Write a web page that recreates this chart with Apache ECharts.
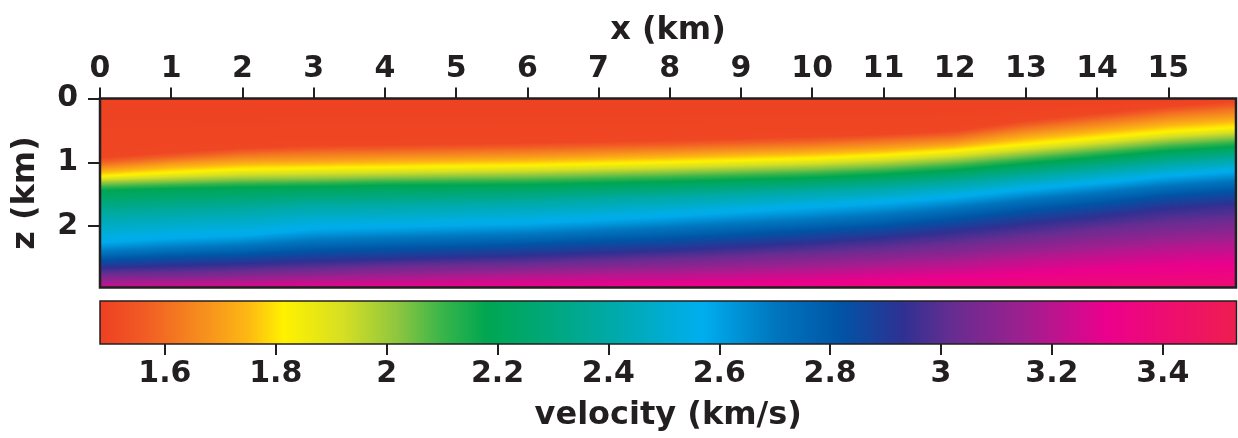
<!DOCTYPE html>
<html>
<head>
<meta charset="utf-8">
<script src="https://cdn.jsdelivr.net/npm/echarts@6/dist/echarts.min.js"></script>
<style>
  html, body { margin: 0; padding: 0; background: #ffffff; }
  #chart { width: 1238px; height: 438px; }
</style>
</head>
<body>
<div id="chart"></div>
<script>
// ---- velocity model: iso-velocity surfaces ----
// lateral positions (km) at which each surface depth is listed
const xKnots = [0, 1, 2, 3, 4, 6, 8, 10, 11, 12, 13, 14, 15, 16];
// velocity (km/s) carried by each surface, shallow to deep
const isoVelocity = [1.49, 1.50, 1.60, 1.70, 1.82, 2.00, 2.18, 2.40, 2.58, 2.72, 2.83, 2.93, 3.05, 3.20, 3.32, 3.45];
// depth (km) of each surface at each knot
const depth149 = [0, 0, 0, 0, 0, 0, 0, 0, 0, 0, 0, 0, 0, 0];
const depth150 = [0.92, 0.84, 0.77, 0.73, 0.72, 0.69, 0.65, 0.59, 0.56, 0.50, 0.34, 0.23, 0.12, 0.04];
const depth160 = [1.02, 0.94, 0.87, 0.84, 0.83, 0.80, 0.76, 0.70, 0.65, 0.60, 0.45, 0.34, 0.23, 0.15];
const depth170 = [1.11, 1.03, 0.98, 0.97, 0.95, 0.92, 0.87, 0.81, 0.77, 0.71, 0.57, 0.47, 0.36, 0.29];
const depth182 = [1.22, 1.16, 1.11, 1.09, 1.08, 1.05, 1.00, 0.94, 0.89, 0.82, 0.72, 0.62, 0.52, 0.45];
const depth200 = [1.31, 1.28, 1.25, 1.24, 1.22, 1.19, 1.14, 1.08, 1.03, 0.96, 0.86, 0.76, 0.66, 0.59];
const depth218 = [1.44, 1.41, 1.39, 1.38, 1.36, 1.35, 1.30, 1.24, 1.19, 1.12, 1.02, 0.92, 0.82, 0.75];
const depth240 = [1.83, 1.79, 1.75, 1.69, 1.68, 1.63, 1.55, 1.46, 1.41, 1.33, 1.23, 1.13, 1.03, 0.95];
const depth258 = [2.26, 2.19, 2.15, 2.05, 2.02, 1.96, 1.85, 1.71, 1.64, 1.55, 1.43, 1.33, 1.22, 1.14];
const depth272 = [2.43, 2.38, 2.33, 2.26, 2.22, 2.16, 2.05, 1.93, 1.85, 1.74, 1.61, 1.50, 1.39, 1.31];
const depth283 = [2.54, 2.49, 2.46, 2.40, 2.37, 2.30, 2.21, 2.08, 2.01, 1.90, 1.77, 1.66, 1.53, 1.46];
const depth293 = [2.65, 2.62, 2.59, 2.55, 2.52, 2.46, 2.38, 2.26, 2.18, 2.08, 1.96, 1.85, 1.72, 1.64];
const depth305 = [2.77, 2.76, 2.73, 2.70, 2.66, 2.62, 2.55, 2.46, 2.40, 2.32, 2.21, 2.10, 2.01, 1.94];
const depth320 = [2.92, 2.90, 2.88, 2.85, 2.84, 2.79, 2.76, 2.70, 2.65, 2.60, 2.51, 2.43, 2.35, 2.30];
const depth332 = [3.06, 3.04, 3.03, 3.01, 2.99, 2.98, 2.96, 2.92, 2.88, 2.85, 2.79, 2.74, 2.70, 2.66];
const depth345 = [3.25, 3.25, 3.25, 3.23, 3.23, 3.23, 3.21, 3.21, 3.20, 3.20, 3.18, 3.18, 3.17, 3.17];
const isoDepth = [depth149, depth150, depth160, depth170, depth182, depth200, depth218, depth240,
                  depth258, depth272, depth283, depth293, depth305, depth320, depth332, depth345];

// ---- axes ----
const xRange = [0, 15.95];      // km
const zRange = [0, 2.96];       // km
const vRange = [1.483, 3.533];  // km/s, colour scale
const xTicks = [0, 1, 2, 3, 4, 5, 6, 7, 8, 9, 10, 11, 12, 13, 14, 15];
const zTicks = [0, 1, 2];
const vTicks = [1.6, 1.8, 2, 2.2, 2.4, 2.6, 2.8, 3, 3.2, 3.4];

// ---- colour scale (velocity -> colour) ----
const CMAP = [
  [1.483, '#ee4023'], [1.56, '#f15a24'], [1.68, '#f7941d'], [1.75, '#fdb813'],
  [1.815, '#fff200'], [1.92, '#d7df23'], [2.02, '#8dc63f'], [2.10, '#39b54a'],
  [2.18, '#00a651'], [2.38, '#00a99d'], [2.57, '#00aeef'], [2.70, '#0076be'],
  [2.82, '#0054a6'], [2.93, '#2e3192'], [3.02, '#662d91'], [3.15, '#9e1f8f'],
  [3.30, '#ec008c'], [3.533, '#ef1d4f']
];
function hexRgb(h) { return [1, 3, 5].map(i => parseInt(h.substr(i, 2), 16)); }
const CMAP_RGB = CMAP.map(s => [s[0], hexRgb(s[1])]);
function velColor(v) {
  if (v <= CMAP_RGB[0][0]) v = CMAP_RGB[0][0];
  const last = CMAP_RGB[CMAP_RGB.length - 1];
  if (v >= last[0]) v = last[0];
  for (let i = 0; i < CMAP_RGB.length - 1; i++) {
    const a = CMAP_RGB[i], b = CMAP_RGB[i + 1];
    if (v >= a[0] && v <= b[0]) {
      const t = (v - a[0]) / (b[0] - a[0]);
      const c = a[1].map((ca, j) => Math.round(ca + (b[1][j] - ca) * t));
      return 'rgb(' + c.join(',') + ')';
    }
  }
  return 'rgb(' + last[1].join(',') + ')';
}

const INK = '#231f20';
const FONT = 'DejaVu Sans';

// colour stops across one band between two neighbouring surfaces
const bandStops = [];
for (let b = 0; b < isoVelocity.length - 1; b++) {
  const v0 = isoVelocity[b], v1 = isoVelocity[b + 1];
  const stops = [];
  for (let s = 0; s <= 6; s++) stops.push({ offset: s / 6, color: velColor(v0 + (v1 - v0) * s / 6) });
  bandStops.push(stops);
}

// one item per (band, knot interval)
const bandItems = [];
for (let b = 0; b < isoVelocity.length - 1; b++) {
  for (let k = 0; k < xKnots.length - 1; k++) bandItems.push([k, b]);
}

function renderBand(params, api) {
  const k = api.value(0), b = api.value(1);
  const xa = xKnots[k], xb = xKnots[k + 1];
  const t0 = isoDepth[b][k], t1 = isoDepth[b][k + 1];
  const d0 = isoDepth[b + 1][k], d1 = isoDepth[b + 1][k + 1];
  const pa = api.coord([xa, 0])[0], pb = api.coord([xb, 0])[0];
  const n = Math.max(1, Math.ceil((pb - pa) / 3));
  const children = [];
  for (let s = 0; s < n; s++) {
    const fm = (s + 0.5) / n;
    const xm = xa + (xb - xa) * fm;
    const yt = api.coord([xm, t0 + (t1 - t0) * fm])[1];
    const yb = api.coord([xm, d0 + (d1 - d0) * fm])[1];
    if (yb - yt < 0.01) continue;
    const x0 = pa + (pb - pa) * s / n, x1 = pa + (pb - pa) * (s + 1) / n;
    children.push({
      type: 'rect',
      shape: { x: x0, y: yt, width: x1 - x0 + 1, height: yb - yt + 0.8 },
      style: { fill: new echarts.graphic.LinearGradient(0, yt, 0, yb, bandStops[b], true) },
      silent: true
    });
  }
  return { type: 'group', children };
}

function renderColorbar(params, api) {
  const p0 = api.coord([api.value(0), 0]);
  const p1 = api.coord([api.value(1), 1]);
  const span = vRange[1] - vRange[0];
  const stops = CMAP.map(s => ({ offset: (s[0] - vRange[0]) / span, color: s[1] }));
  return {
    type: 'rect',
    shape: { x: p0[0], y: p1[1], width: p1[0] - p0[0], height: p0[1] - p1[1] },
    style: { fill: new echarts.graphic.LinearGradient(p0[0], 0, p1[0], 0, stops, true) },
    silent: true
  };
}

const labelStyle = { fontFamily: FONT, fontWeight: 'bold', fontSize: 30, color: INK };
const nameStyle = { fontFamily: FONT, fontWeight: 'bold', fontSize: 32, color: INK };

const chart = echarts.init(document.getElementById('chart'), null, { renderer: 'canvas' });
chart.setOption({
  animation: false,
  backgroundColor: '#ffffff',
  grid: [
    { left: 100, top: 98.5, width: 1136, height: 189, show: true, borderColor: INK, borderWidth: 2.5, backgroundColor: 'transparent', z: 5 },
    { left: 100, top: 301, width: 1136.5, height: 43, show: true, borderColor: INK, borderWidth: 1.5, backgroundColor: 'transparent', z: 5 }
  ],
  xAxis: [
    {
      gridIndex: 0, type: 'value', position: 'top', min: xRange[0], max: xRange[1],
      name: 'x (km)', nameLocation: 'middle', nameGap: 52, nameTextStyle: nameStyle,
      axisLine: { show: false },
      axisTick: { show: true, customValues: xTicks, length: 11, lineStyle: { color: INK, width: 2 } },
      axisLabel: Object.assign({ customValues: xTicks, margin: 14 }, labelStyle),
      splitLine: { show: false }
    },
    {
      gridIndex: 1, type: 'value', position: 'bottom', min: vRange[0], max: vRange[1],
      name: 'velocity (km/s)', nameLocation: 'middle', nameGap: 56, nameTextStyle: nameStyle,
      axisLine: { show: false },
      axisTick: { show: true, customValues: vTicks, length: 11, lineStyle: { color: INK, width: 2 } },
      axisLabel: Object.assign({ customValues: vTicks, margin: 15, formatter: v => String(v) }, labelStyle),
      splitLine: { show: false }
    }
  ],
  yAxis: [
    {
      gridIndex: 0, type: 'value', inverse: true, min: zRange[0], max: zRange[1],
      name: 'z (km)', nameLocation: 'middle', nameGap: 58, nameTextStyle: nameStyle,
      axisLine: { show: false },
      axisTick: { show: true, customValues: zTicks, length: 12, lineStyle: { color: INK, width: 2 } },
      axisLabel: Object.assign({ customValues: zTicks, margin: 22 }, labelStyle),
      splitLine: { show: false }
    },
    {
      gridIndex: 1, type: 'value', min: 0, max: 1, show: false
    }
  ],
  series: [
    {
      type: 'custom', xAxisIndex: 0, yAxisIndex: 0, z: 1, clip: true,
      renderItem: renderBand, data: bandItems, silent: true
    },
    {
      type: 'custom', xAxisIndex: 1, yAxisIndex: 1, z: 1, clip: true,
      renderItem: renderColorbar, data: [[vRange[0], vRange[1]]], silent: true
    }
  ]
});
</script>
</body>
</html>
